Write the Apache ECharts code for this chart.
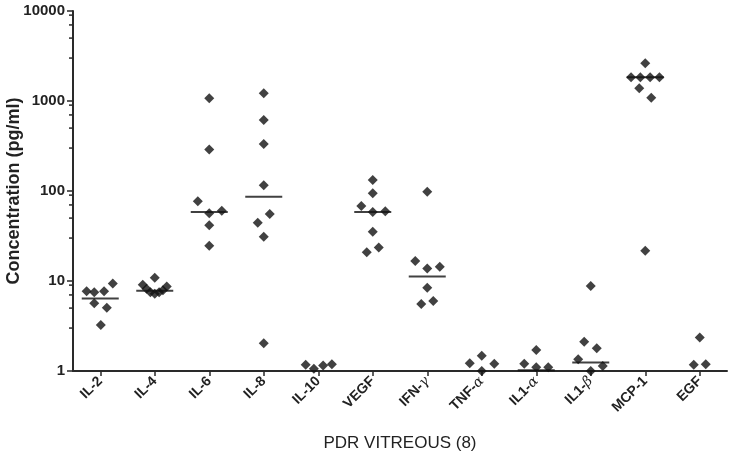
<!DOCTYPE html>
<html>
<head>
<meta charset="utf-8">
<script src="https://cdn.jsdelivr.net/npm/echarts@6/dist/echarts.min.js"></script>
<style>
html,body{margin:0;padding:0;background:#fff;}
#chart{width:732px;height:469px;}
</style>
</head>
<body>
<div id="chart"></div>
<script>
// ---- data ----
const categories = ['IL-2','IL-4','IL-6','IL-8','IL-10','VEGF','IFN-γ','TNF-α','IL1-α','IL1-β','MCP-1','EGF'];

const valsIL2  = [7.7, 7.5, 7.7, 9.4, 5.65, 5.05, 3.25];
const valsIL4  = [10.9, 9.1, 8.2, 7.5, 7.2, 7.5, 7.9, 8.7];
const valsIL6  = [1071, 290, 77, 56.5, 60.4, 41.6, 24.7];
const valsIL8  = [1218, 615, 333, 116, 55.5, 44.5, 31, 2.03];
const valsIL10 = [1.17, 1.06, 1.15, 1.19];
const valsVEGF = [132.5, 94.3, 68, 58.5, 59.5, 35.3, 20.8, 23.5];
const valsIFNg = [98.3, 16.7, 13.8, 14.4, 8.4, 5.55, 6.0];
const valsTNFa = [1.22, 1.48, 1.2, 1.0];
const valsIL1a = [1.2, 1.71, 1.1, 1.1];
const valsIL1b = [8.8, 2.12, 1.79, 1.35, 1.0, 1.14];
const valsMCP1 = [2624, 1834, 1834, 1834, 1834, 1384, 1088, 21.7];
const valsEGF  = [2.35, 1.17, 1.19];

// horizontal jitter (fraction of category width) of each point
const jitIL2  = [-0.25, -0.11, 0.07, 0.23, -0.11, 0.12, 0.01];
const jitIL4  = [0, -0.22, -0.15, -0.08, 0, 0.08, 0.15, 0.22];
const jitIL6  = [0, 0, -0.21, 0, 0.23, 0, 0];
const jitIL8  = [0, 0, 0, 0, 0.11, -0.11, 0, 0];
const jitIL10 = [-0.23, -0.08, 0.09, 0.25];
const jitVEGF = [0, 0, -0.21, 0, 0.23, 0, -0.11, 0.11];
const jitIFNg = [0, -0.22, 0, 0.23, 0, -0.11, 0.11];
const jitTNFa = [-0.22, 0, 0.23, 0];
const jitIL1a = [-0.22, 0, 0, 0.22];
const jitIL1b = [0, -0.12, 0.11, -0.23, 0, 0.22];
const jitMCP1 = [0, -0.26, -0.09, 0.09, 0.26, -0.11, 0.11, 0];
const jitEGF  = [0, -0.11, 0.11];

const medianValues = [6.4, 7.8, 58.4, 86.5, null, 58.5, 11.2, null, 1.02, 1.24, 1834, null];

const yTickValues = [1, 10, 100, 1000, 10000];
const minorTickValues = [3, 5, 7, 9, 30, 50, 70, 90, 300, 500, 700, 900, 3000, 5000, 7000, 9000];

// ---- build series data ----
const allVals = [valsIL2, valsIL4, valsIL6, valsIL8, valsIL10, valsVEGF, valsIFNg, valsTNFa, valsIL1a, valsIL1b, valsMCP1, valsEGF];
const allJit  = [jitIL2, jitIL4, jitIL6, jitIL8, jitIL10, jitVEGF, jitIFNg, jitTNFa, jitIL1a, jitIL1b, jitMCP1, jitEGF];
const pointData = [];
allVals.forEach((arr, i) => arr.forEach((v, k) => pointData.push([i + allJit[i][k], v])));
const medianData = [];
medianValues.forEach((v, i) => { if (v != null) medianData.push([i, v]); });

const FONT = 'Liberation Sans, Arial, Helvetica, sans-serif';
const AX = '#2a2a2a';

const chart = echarts.init(document.getElementById('chart'), null, {renderer: 'canvas'});
chart.setOption({
  animation: false,
  backgroundColor: '#fff',
  grid: {left: 73, right: 5, top: 11, bottom: 98, containLabel: false, outerBoundsMode: 'none'},
  xAxis: [
    {
      type: 'category',
      data: categories,
      boundaryGap: true,
      axisLine: {show: true, onZero: false, lineStyle: {color: AX, width: 2}},
      axisTick: {show: true, alignWithLabel: true, length: 5, lineStyle: {color: AX, width: 1.5}},
      axisLabel: {
        rotate: 45, margin: 8, color: '#222', fontFamily: FONT, fontWeight: 'bold', fontSize: 14,
        formatter: function (s) {
          return s.replace(/([αβγ])/g, '{g|$1}');
        },
        rich: {g: {fontFamily: 'DejaVu Serif, serif', fontStyle: 'italic', fontWeight: 'normal', fontSize: 14, color: '#222'}}
      },
      splitLine: {show: false},
      name: 'PDR VITREOUS (8)',
      nameLocation: 'middle',
      nameGap: 64,
      nameMoveOverlap: false,
      nameTextStyle: {fontFamily: FONT, fontSize: 17, color: '#222'}
    },
    {type: 'value', min: -0.5, max: 11.5, show: false}
  ],
  yAxis: {
    type: 'log',
    logBase: 10,
    min: yTickValues[0],
    max: yTickValues[yTickValues.length - 1],
    axisLine: {show: true, onZero: false, lineStyle: {color: AX, width: 2}},
    axisTick: {show: true, length: 6, lineStyle: {color: AX, width: 1.5}},
    minorTick: {show: false},
    splitLine: {show: false},
    axisLabel: {
      margin: 8, color: '#222', fontFamily: FONT, fontWeight: 'bold', fontSize: 15,
      formatter: function (v) { return String(Math.round(v)); }
    },
    name: 'Concentration (pg/ml)',
    nameLocation: 'middle',
    nameGap: 50,
    nameMoveOverlap: false,
    nameTextStyle: {fontFamily: FONT, fontWeight: 'bold', fontSize: 18, color: '#222'}
  },
  series: [
    {
      type: 'custom',
      xAxisIndex: 1,
      clip: false,
      silent: true,
      data: minorTickValues.map(v => [-0.5, v]),
      renderItem: function (params, api) {
        const p = api.coord([-0.5, api.value(1)]);
        return {
          type: 'line',
          shape: {x1: p[0] - 4, y1: p[1], x2: p[0], y2: p[1]},
          style: {stroke: AX, lineWidth: 1.5}
        };
      }
    },
    {
      type: 'scatter',
      xAxisIndex: 1,
      clip: false,
      symbol: 'rect',
      symbolSize: [37, 2],
      itemStyle: {color: '#111'},
      data: medianData,
      z: 3
    },
    {
      type: 'scatter',
      xAxisIndex: 1,
      clip: false,
      symbol: 'diamond',
      symbolSize: 10,
      itemStyle: {color: '#111'},
      data: pointData,
      z: 4
    }
  ]
});
</script>
</body>
</html>
